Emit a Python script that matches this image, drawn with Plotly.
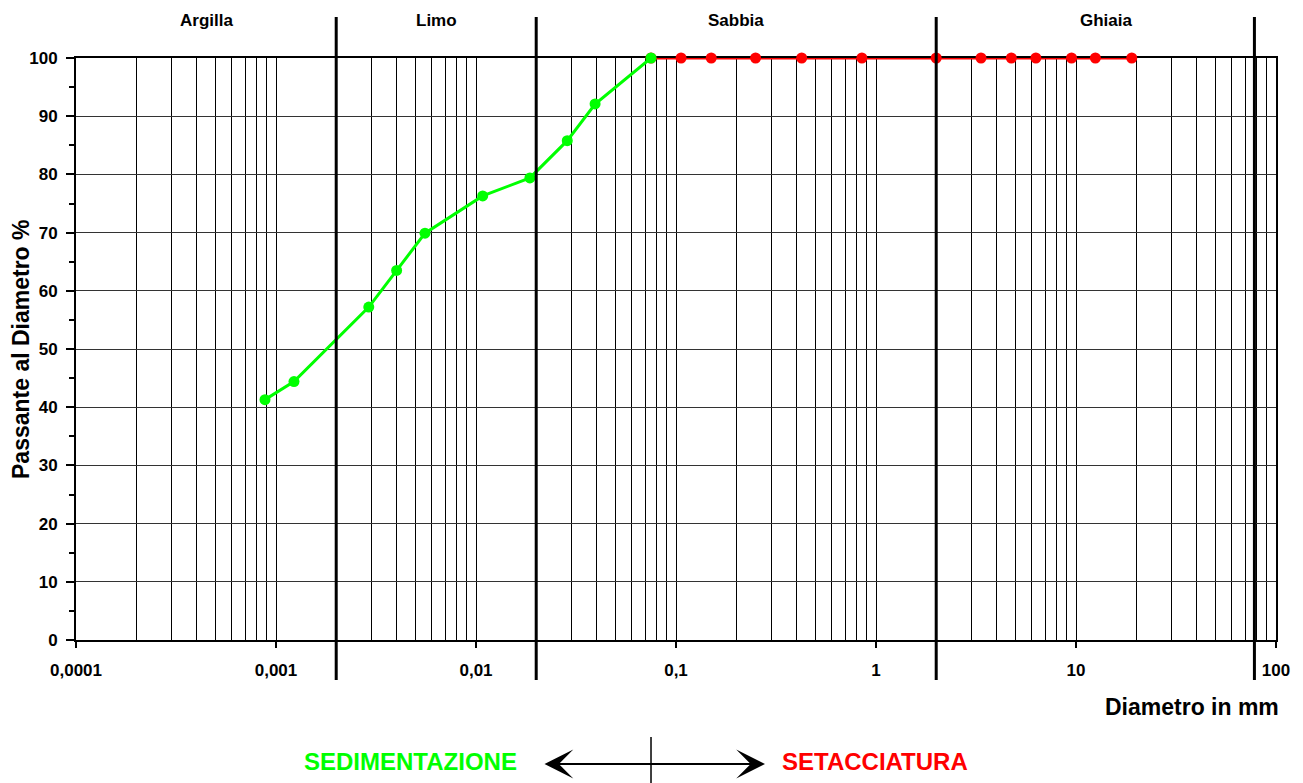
import math
import plotly.graph_objects as go

# Sedimentation (hydrometer) results: diameter in mm, percent passing
sed_diam = [0.000881, 0.00123, 0.00291, 0.00401, 0.00556, 0.0108, 0.0186, 0.0286, 0.0394, 0.075]
sed_pass = [41.3, 44.4, 57.2, 63.5, 69.9, 76.3, 79.4, 85.8, 92.1, 100.0]

# Sieve analysis results: diameter in mm, percent passing
sieve_diam = [0.075, 0.106, 0.15, 0.25, 0.425, 0.85, 2.0, 3.35, 4.75, 6.3, 9.5, 12.5, 19.0]
sieve_pass = [100.0, 100.0, 100.0, 100.0, 100.0, 100.0, 100.0, 100.0, 100.0, 100.0, 100.0, 100.0, 100.0]

# Axis ticks
x_major = [0.0001, 0.001, 0.01, 0.1, 1, 10, 100]
x_major_text = ["0,0001", "0,001", "0,01", "0,1", "1", "10", "100"]
x_minor = [m * d for d in [0.0001, 0.001, 0.01, 0.1, 1, 10] for m in range(2, 10)]
y_major = list(range(0, 101, 10))

# Soil class boundaries (mm) and labels
class_limits = [0.002, 0.02, 2.0, 78.0]
class_names = ["Argilla", "Limo", "Sabbia", "Ghiaia"]
class_edges = [0.0001, 0.002, 0.02, 2.0, 100.0]

FONT = "Liberation Sans, Arial, sans-serif"
NARROW = "Liberation Sans Narrow, Arial Narrow, Liberation Sans, Arial, sans-serif"
GREEN = "#00FF00"
RED = "#FF0000"

W, H = 1303, 783
ML, MR, MT, MB = 76, 27, 58, 143
PW, PH = W - ML - MR, H - MT - MB


def px_x(p):
    return (p - ML) / PW


def px_y(p):
    return (H - MB - p) / PH


fig = go.Figure()

fig.add_trace(go.Scatter(
    x=sieve_diam, y=sieve_pass, mode="lines+markers",
    line=dict(color=RED, width=3),
    marker=dict(color=RED, size=11),
    cliponaxis=False, showlegend=False, name="Setacciatura",
))
fig.add_trace(go.Scatter(
    x=sed_diam, y=sed_pass, mode="lines+markers",
    line=dict(color=GREEN, width=3),
    marker=dict(color=GREEN, size=11),
    cliponaxis=False, showlegend=False, name="Sedimentazione",
))

shapes = []
# Thick class boundary lines extending above and below the plot
for lim in class_limits:
    shapes.append(dict(
        type="line", xref="x", yref="paper",
        x0=lim, x1=lim, y0=px_y(680), y1=px_y(17),
        line=dict(color="black", width=3), layer="above",
    ))
# Divider between sedimentation and sieving
shapes.append(dict(
    type="line", xref="x", yref="paper",
    x0=0.075, x1=0.075, y0=px_y(783), y1=px_y(737),
    line=dict(color="black", width=1.5),
))

annotations = []
for name, lo, hi in zip(class_names, class_edges[:-1], class_edges[1:]):
    annotations.append(dict(
        text="<b>%s</b>" % name, xref="x", yref="paper",
        x=(math.log10(lo) + math.log10(hi)) / 2,
        y=px_y(20), showarrow=False, xanchor="center", yanchor="middle",
        font=dict(family=FONT, size=17, color="black"),
    ))

annotations += [
    dict(text="<b>Passante al Diametro %</b>", xref="paper", yref="paper",
         x=px_x(21), y=0.5, textangle=-90, showarrow=False,
         xanchor="center", yanchor="middle",
         font=dict(family=FONT, size=23, color="black")),
    dict(text="<b>Diametro in mm</b>", xref="paper", yref="paper",
         x=px_x(1281), y=px_y(707), showarrow=False,
         xanchor="right", yanchor="middle",
         font=dict(family=FONT, size=23, color="black")),
    dict(text="<b>SEDIMENTAZIONE</b>", xref="paper", yref="paper",
         x=px_x(410), y=px_y(761), showarrow=False,
         xanchor="center", yanchor="middle",
         font=dict(family=NARROW, size=24, color=GREEN)),
    dict(text="<b>SETACCIATURA</b>", xref="paper", yref="paper",
         x=px_x(875), y=px_y(761), showarrow=False,
         xanchor="center", yanchor="middle",
         font=dict(family=NARROW, size=24, color=RED)),
    # double headed arrow
    dict(text="", xref="paper", yref="paper",
         x=px_x(765), y=px_y(764), ax=-(765 - 543), ay=0,
         showarrow=True, arrowside="end+start", arrowhead=3,
         arrowsize=2.4, arrowwidth=2, arrowcolor="black",
         standoff=0, startstandoff=0),
]

fig.update_layout(
    width=W, height=H,
    margin=dict(l=ML, r=MR, t=MT, b=MB, pad=0),
    paper_bgcolor="white", plot_bgcolor="white",
    shapes=shapes, annotations=annotations,
    showlegend=False,
    xaxis=dict(
        type="log", range=[-4, 2],
        tickvals=x_major, ticktext=x_major_text,
        ticks="outside", ticklen=6, tickwidth=2, tickcolor="black",
        ticklabelstandoff=8,
        tickfont=dict(family=FONT, size=17, color="black", weight="bold"),
        showgrid=True, gridcolor="black", gridwidth=1,
        minor=dict(tickvals=x_minor, showgrid=True, gridcolor="black",
                   gridwidth=1, ticks=""),
        showline=True, linecolor="black", linewidth=2, mirror=True,
        zeroline=False, layer="below traces",
    ),
    yaxis=dict(
        range=[0, 100], tickvals=y_major,
        ticks="outside", ticklen=8, tickwidth=2, tickcolor="black",
        ticklabelstandoff=5,
        tickfont=dict(family=FONT, size=17, color="black", weight="bold"),
        showgrid=True, gridcolor="#333333", gridwidth=1,
        minor=dict(dtick=5, ticks="outside", ticklen=5, tickwidth=2,
                   tickcolor="black", showgrid=False),
        showline=True, linecolor="black", linewidth=2, mirror=True,
        zeroline=False, layer="below traces",
    ),
)

fig.write_html("out.html")
